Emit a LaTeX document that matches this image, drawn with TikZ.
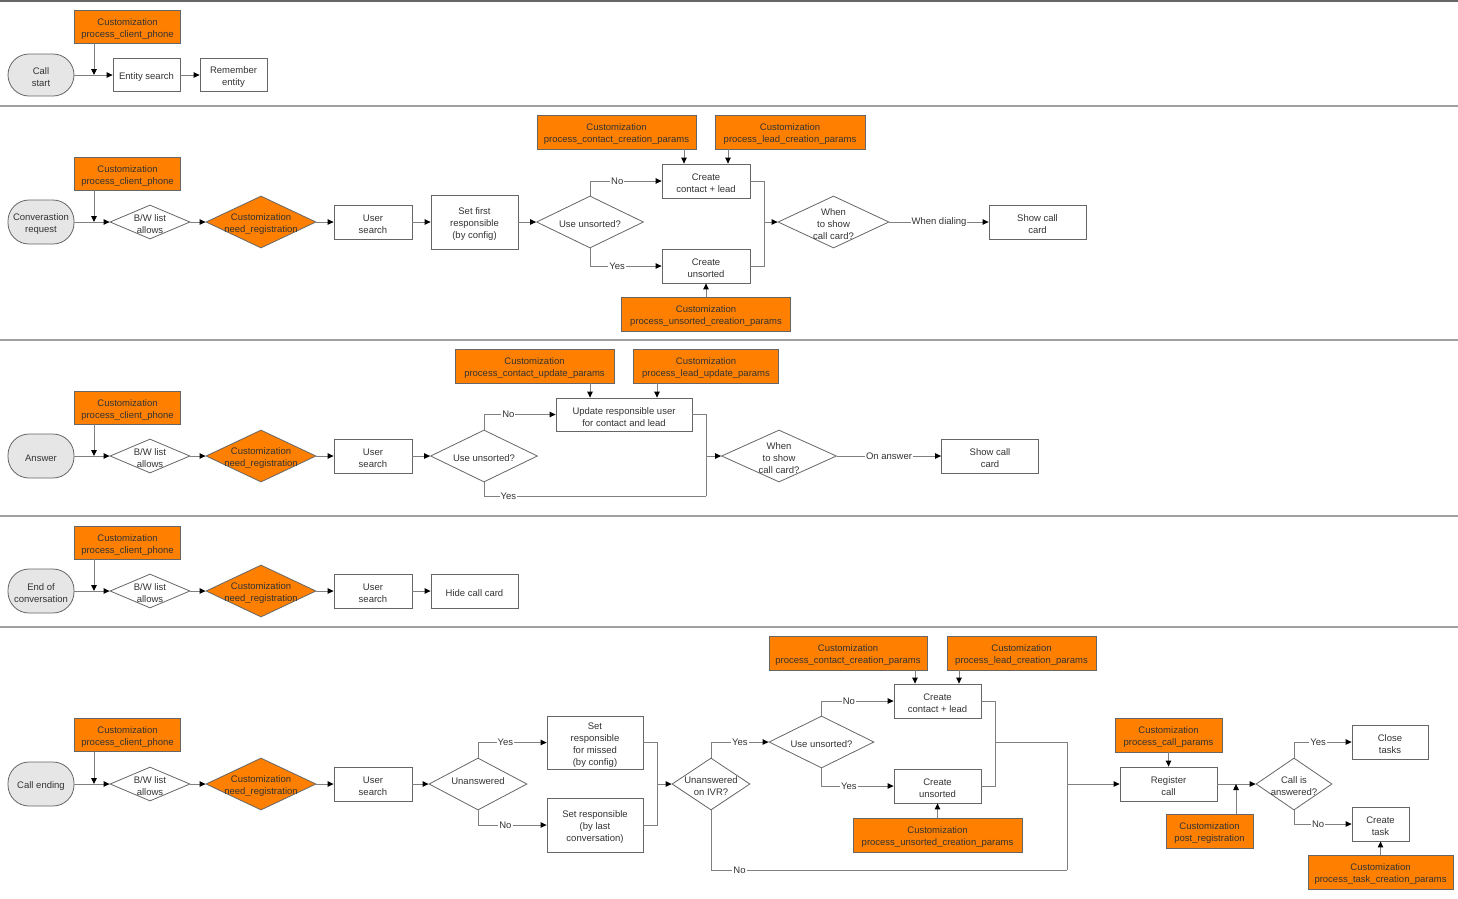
\documentclass[tikz,border=0pt]{standalone}
\usepackage{fontspec}
\setmainfont{Liberation Sans}
\usetikzlibrary{arrows.meta,shapes.geometric,calc}
\definecolor{org}{HTML}{FF8000}
\definecolor{bd}{HTML}{666666}
\definecolor{ln}{HTML}{808080}
\definecolor{tx}{HTML}{333333}
\definecolor{st}{HTML}{E6E6E6}
\definecolor{sep}{HTML}{A0A0A0}
\begin{document}
\begin{tikzpicture}[x=1pt,y=-1pt,
  fnt/.style={font=\fontsize{9.5}{12}\selectfont},
  base/.style={fnt,draw=bd,line width=0.8pt,text=tx,align=center,inner sep=0pt},
  box/.style={base,rectangle,fill=white},
  cust/.style={base,rectangle,fill=org},
  term/.style={base,rectangle,rounded corners=21pt,fill=st},
  dia/.style={base,diamond,fill=white},
  odia/.style={dia,fill=org},
  lt/.style={fnt,text=tx,align=center,inner sep=0pt,yshift=-2.2pt},
  olt/.style={lt,text=black!80},
  T/.style={label={[lt]center:{#1}}},
  OT/.style={label={[olt]center:{#1}}},
  line/.style={draw=ln,line width=0.9pt},
  arr/.style={line,-{Triangle[length=6pt,width=5.5pt,color=black]}},
  lbl/.style={fnt,fill=white,inner sep=1pt,text=tx},
  sepl/.style={draw=sep,line width=1.2pt}]
\useasboundingbox (0,0) rectangle (1458,898);
\fill[white] (0,0) rectangle (1458,898);
% separators
\draw[sepl,draw=bd] (0,1) -- (1458,1);
\draw[sepl] (0,106) -- (1458,106);
\draw[sepl] (0,340) -- (1458,340);
\draw[sepl] (0,516) -- (1458,516);
\draw[sepl] (0,627) -- (1458,627);

% ================= Lane 1
\node[cust,minimum width=106pt,minimum height=33pt,OT={Customization\\process\_client\_phone}] (c1) at (127.5,26.5) {};
\node[term,minimum width=66pt,minimum height=42pt,T={Call\\start}] (s1) at (41,75) {};
\node[box,minimum width=67pt,minimum height=33pt,T={Entity search}] (es1) at (146.5,75) {};
\node[box,minimum width=67pt,minimum height=33pt,T={Remember\\entity}] (re1) at (233.5,75) {};
\coordinate (j1) at (94,75);
\draw[arr] (s1) -- (es1);
\draw[arr] (es1) -- (re1);
\draw[arr] (c1.south -| j1) -- (j1);

% ================= Lane 2
\node[cust,minimum width=106pt,minimum height=33pt,OT={Customization\\process\_client\_phone}] (c2) at (127.5,173.5) {};
\node[term,minimum width=66pt,minimum height=44pt,T={Converastion\\request}] (s2) at (41,222) {};
\node[dia,minimum width=80pt,minimum height=34pt,T={B/W list\\allows}] (bw2) at (150,222) {};
\node[odia,minimum width=110pt,minimum height=52pt,OT={Customization\\need\_registration}] (nr2) at (261,222) {};
\node[box,minimum width=78pt,minimum height=34pt,T={User\\search}] (us2) at (373,222) {};
\node[box,minimum width=87pt,minimum height=54pt,T={Set first\\responsible\\(by config)}] (sf2) at (474.5,222) {};
\node[dia,minimum width=107pt,minimum height=52pt,T={Use unsorted?}] (uu2) at (590,222) {};
\node[box,minimum width=88pt,minimum height=34pt,T={Create\\contact + lead}] (cl2) at (706,181) {};
\node[box,minimum width=88pt,minimum height=34pt,T={Create\\unsorted}] (cu2) at (706,266) {};
\node[cust,minimum width=159pt,minimum height=34pt,OT={Customization\\process\_contact\_creation\_params}] (cc2) at (616.5,132) {};
\node[cust,minimum width=150pt,minimum height=34pt,OT={Customization\\process\_lead\_creation\_params}] (cld2) at (790,132) {};
\node[cust,minimum width=169pt,minimum height=34pt,OT={Customization\\process\_unsorted\_creation\_params}] (cun2) at (706,314) {};
\node[dia,minimum width=111pt,minimum height=52pt,T={When\\to show\\call card?}] (wh2) at (833.5,222) {};
\node[box,minimum width=97pt,minimum height=34pt,T={Show call\\card}] (sc2) at (1037.5,222) {};
\coordinate (j2) at (94,222);
\coordinate (m2) at (764,222);
\coordinate (x684) at (684,0);
\coordinate (x728) at (728,0);
\draw[arr] (s2) -- (bw2);
\draw[arr] (bw2) -- (nr2);
\draw[arr] (nr2) -- (us2);
\draw[arr] (us2) -- (sf2);
\draw[arr] (sf2) -- (uu2);
\draw[arr] (c2.south -| j2) -- (j2);
\draw[arr] (uu2.north) |- node[lbl,pos=0.69]{No} (cl2.west);
\draw[arr] (uu2.south) |- node[lbl,pos=0.69]{Yes} (cu2.west);
\draw[line] (cl2.east) -| (m2);
\draw[line] (cu2.east) -| (m2);
\draw[arr] (m2) -- (wh2.west);
\draw[arr] (wh2) -- node[lbl]{When dialing} (sc2);
\draw[arr] (cc2.south -| x684) -- (cl2.north -| x684);
\draw[arr] (cld2.south -| x728) -- (cl2.north -| x728);
\draw[arr] (cun2) -- (cu2);

% ================= Lane 3
\node[cust,minimum width=106pt,minimum height=33pt,OT={Customization\\process\_client\_phone}] (c3) at (127.5,407.5) {};
\node[term,minimum width=66pt,minimum height=44pt,T={Answer}] (s3) at (41,456) {};
\node[dia,minimum width=80pt,minimum height=34pt,T={B/W list\\allows}] (bw3) at (150,456) {};
\node[odia,minimum width=110pt,minimum height=52pt,OT={Customization\\need\_registration}] (nr3) at (261,456) {};
\node[box,minimum width=78pt,minimum height=34pt,T={User\\search}] (us3) at (373,456) {};
\node[dia,minimum width=107pt,minimum height=52pt,T={Use unsorted?}] (uu3) at (484,456) {};
\node[box,minimum width=136pt,minimum height=33pt,T={Update responsible user\\for contact and lead}] (up3) at (624,414.5) {};
\node[cust,minimum width=159pt,minimum height=34pt,OT={Customization\\process\_contact\_update\_params}] (ccu3) at (534.5,366) {};
\node[cust,minimum width=145pt,minimum height=34pt,OT={Customization\\process\_lead\_update\_params}] (clu3) at (706,366) {};
\node[dia,minimum width=115pt,minimum height=52pt,T={When\\to show\\call card?}] (wh3) at (779,456) {};
\node[box,minimum width=97pt,minimum height=34pt,T={Show call\\card}] (sc3) at (990,456) {};
\coordinate (j3) at (94,456);
\coordinate (m3) at (706,456);
\coordinate (m3b) at (706,496);
\coordinate (x590) at (590,0);
\coordinate (x657) at (657,0);
\draw[arr] (s3) -- (bw3);
\draw[arr] (bw3) -- (nr3);
\draw[arr] (nr3) -- (us3);
\draw[arr] (us3) -- (uu3);
\draw[arr] (c3.south -| j3) -- (j3);
\draw[arr] (uu3.north) |- node[lbl,pos=0.67]{No} (up3.west);
\draw[line] (uu3.south) |- node[lbl,pos=0.555]{Yes} (m3b);
\draw[line] (m3b) -- (m3);
\draw[line] (up3.east) -| (m3);
\draw[arr] (m3) -- (wh3.west);
\draw[arr] (wh3) -- node[lbl]{On answer} (sc3);
\draw[arr] (ccu3.south -| x590) -- (up3.north -| x590);
\draw[arr] (clu3.south -| x657) -- (up3.north -| x657);

% ================= Lane 4
\node[cust,minimum width=106pt,minimum height=33pt,OT={Customization\\process\_client\_phone}] (c4) at (127.5,542.5) {};
\node[term,minimum width=66pt,minimum height=44pt,T={End of\\conversation}] (s4) at (41,591) {};
\node[dia,minimum width=80pt,minimum height=34pt,T={B/W list\\allows}] (bw4) at (150,591) {};
\node[odia,minimum width=110pt,minimum height=52pt,OT={Customization\\need\_registration}] (nr4) at (261,591) {};
\node[box,minimum width=78pt,minimum height=34pt,T={User\\search}] (us4) at (373,591) {};
\node[box,minimum width=87pt,minimum height=34pt,T={Hide call card}] (hc4) at (474.5,591) {};
\coordinate (j4) at (94,591);
\draw[arr] (s4) -- (bw4);
\draw[arr] (bw4) -- (nr4);
\draw[arr] (nr4) -- (us4);
\draw[arr] (us4) -- (hc4);
\draw[arr] (c4.south -| j4) -- (j4);

% ================= Lane 5
\node[cust,minimum width=106pt,minimum height=33pt,OT={Customization\\process\_client\_phone}] (c5) at (127.5,735) {};
\node[term,minimum width=66pt,minimum height=44pt,T={Call ending}] (s5) at (41,784) {};
\node[dia,minimum width=80pt,minimum height=34pt,T={B/W list\\allows}] (bw5) at (150,784) {};
\node[odia,minimum width=110pt,minimum height=52pt,OT={Customization\\need\_registration}] (nr5) at (261,784) {};
\node[box,minimum width=78pt,minimum height=34pt,T={User\\search}] (us5) at (373,784) {};
\node[dia,minimum width=98pt,minimum height=52pt,label={[lt,yshift=5.5pt]center:{Unanswered}}] (un5) at (478,784) {};
\node[box,minimum width=96pt,minimum height=53pt,T={Set\\responsible\\for missed\\(by config)}] (sm5) at (595,742.5) {};
\node[box,minimum width=96pt,minimum height=54pt,T={Set responsible\\(by last\\conversation)}] (sl5) at (595,825) {};
\node[dia,minimum width=78pt,minimum height=52pt,T={Unanswered\\on IVR?}] (iv5) at (711,784) {};
\node[dia,minimum width=105pt,minimum height=52pt,T={Use unsorted?}] (uu5) at (821.5,742) {};
\node[box,minimum width=87pt,minimum height=34pt,T={Create\\contact + lead}] (cl5) at (937.5,701) {};
\node[box,minimum width=87pt,minimum height=34pt,T={Create\\unsorted}] (cu5) at (937.5,786) {};
\node[cust,minimum width=158pt,minimum height=34pt,OT={Customization\\process\_contact\_creation\_params}] (cc5) at (848,653) {};
\node[cust,minimum width=149pt,minimum height=34pt,OT={Customization\\process\_lead\_creation\_params}] (cld5) at (1021.5,653) {};
\node[cust,minimum width=169pt,minimum height=34pt,OT={Customization\\process\_unsorted\_creation\_params}] (cun5) at (937.5,835) {};
\node[box,minimum width=97pt,minimum height=34pt,T={Register\\call}] (rc5) at (1168.5,784) {};
\node[cust,minimum width=107pt,minimum height=34pt,OT={Customization\\process\_call\_params}] (cp5) at (1168.5,735) {};
\node[cust,minimum width=87pt,minimum height=34pt,OT={Customization\\post\_registration}] (pr5) at (1209.5,831) {};
\node[dia,minimum width=76pt,minimum height=52pt,T={Call is\\answered?}] (ca5) at (1294,784) {};
\node[box,minimum width=76pt,minimum height=34pt,T={Close\\tasks}] (ct5) at (1390,742) {};
\node[box,minimum width=57pt,minimum height=34pt,T={Create\\task}] (tk5) at (1380.5,824) {};
\node[cust,minimum width=145pt,minimum height=34pt,OT={Customization\\process\_task\_creation\_params}] (tp5) at (1380.5,872) {};
\coordinate (j5) at (94,784);
\coordinate (m5a) at (657,784);
\coordinate (m5b) at (995,742);
\coordinate (m5c) at (1067,742);
\coordinate (m5d) at (1067,870);
\coordinate (m5e) at (1067,784);
\coordinate (j5b) at (1236,784);
\coordinate (x915) at (915,0);
\coordinate (x959) at (959,0);
\draw[arr] (s5) -- (bw5);
\draw[arr] (bw5) -- (nr5);
\draw[arr] (nr5) -- (us5);
\draw[arr] (us5) -- (un5);
\draw[arr] (c5.south -| j5) -- (j5);
\draw[arr] (un5.north) |- node[lbl,pos=0.7]{Yes} (sm5.west);
\draw[arr] (un5.south) |- node[lbl,pos=0.7]{No} (sl5.west);
\draw[line] (sm5.east) -| (m5a);
\draw[line] (sl5.east) -| (m5a);
\draw[arr] (m5a) -- (iv5.west);
\draw[arr] (iv5.north) |- node[lbl,pos=0.75]{Yes} (uu5.west);
\draw[arr] (uu5.north) |- node[lbl,pos=0.69]{No} (cl5.west);
\draw[arr] (uu5.south) |- node[lbl,pos=0.69]{Yes} (cu5.west);
\draw[line] (cl5.east) -| (m5b);
\draw[line] (cu5.east) -| (m5b);
\draw[line] (m5b) -- (m5c) -- (m5d);
\draw[line] (iv5.south) |- node[lbl,pos=0.54]{No} (m5d);
\draw[arr] (m5e) -- (rc5.west);
\draw[arr] (cc5.south -| x915) -- (cl5.north -| x915);
\draw[arr] (cld5.south -| x959) -- (cl5.north -| x959);
\draw[arr] (cun5) -- (cu5);
\draw[arr] (cp5) -- (rc5);
\draw[arr] (rc5) -- (ca5);
\draw[arr] (pr5.north -| j5b) -- (j5b);
\draw[arr] (ca5.north) |- node[lbl,pos=0.71]{Yes} (ct5.west);
\draw[arr] (ca5.south) |- node[lbl,pos=0.71]{No} (tk5.west);
\draw[arr] (tp5) -- (tk5);
\end{tikzpicture}
\end{document}
